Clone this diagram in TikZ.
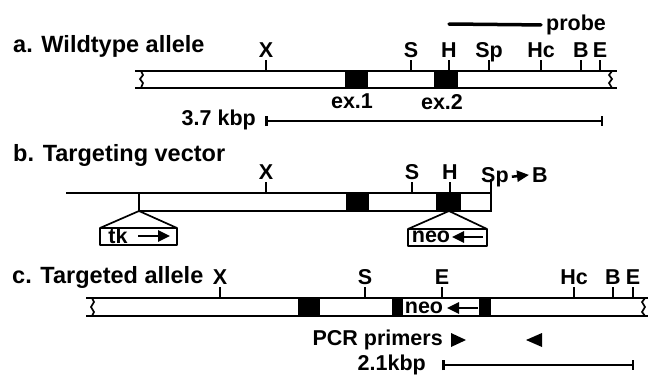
\documentclass[tikz,border=0pt]{standalone}
\usepackage{fontspec}
\setmainfont{Liberation Sans}
\usetikzlibrary{arrows.meta}
\tikzset{
    title/.style={font=\fontsize{23.5}{28}\bfseries, anchor=west, inner sep=0pt},
    label/.style={font=\fontsize{21.5}{26}\bfseries, inner sep=0pt},
    site/.style={font=\fontsize{21.5}{26}\bfseries, above=2pt, inner sep=0pt, text depth=0pt},
    tick/.style={line width=2pt},
    strand/.style={line width=1.7pt},
    exon/.style={fill=black, draw=none},
    geneArrow/.style={line width=2.5pt, -{Triangle[length=12pt,width=11pt]}},
    scalebar/.style={line width=2.5pt, {Bar[width=10pt]}-{Bar[width=10pt]}}
}
\begin{document}
\begin{tikzpicture}[x=1pt, y=-1pt]
    \useasboundingbox (0,0) rectangle (649,375);

    % Wildtype allele
    \node[title] (atitle) at (13,46) {a. Wildtype allele};
    \draw[strand] (135,71) -- (617,71);
    \draw[strand] (135,88) -- (617,88);
    \draw[strand] (141,71) -- (143,75) -- (140,79) -- (143,83) -- (141,88);
    \draw[strand] (612,71) -- (609,75) -- (612,79) -- (609,83) -- (612,88);
    \fill[exon] (345,71) rectangle (368,88);
    \fill[exon] (434,71) rectangle (458,88);
    \draw[tick] (266,71) -- ++(0,-11) node[site] (aX) {X};
    \draw[tick] (411,71) -- ++(0,-11) node[site] (aS) {S};
    \draw[tick] (449,71) -- ++(0,-11) node[site] (aH) {H};
    \draw[tick] (489,71) -- ++(0,-11) node[site] (aSp) {Sp};
    \draw[tick] (541,71) -- ++(0,-11) node[site] (aHc) {Hc};
    \draw[tick] (581,71) -- ++(0,-11) node[site] (aB) {B};
    \draw[tick] (600,71) -- ++(0,-11) node[site] (aE) {E};
    \node[label] (ex1) at (352,101) {ex.1};
    \node[label] (ex2) at (442,102) {ex.2};

    % Probe and fragment
    \node[label, anchor=west] (probe) at (546,25) {probe};
    \draw[line width=3.5pt, line cap=round, shorten >=5pt] (449,24) -- (probe.west);
    \node[label, anchor=east] (akbp) at (256,120) {3.7 kbp};
    \draw[scalebar] (265,121) -- (603,121);

    % Targeting vector
    \node[title] (btitle) at (13,155) {b. Targeting vector};
    \draw[strand] (66,193) -- (491,193);
    \draw[strand] (139,211) -- (491,211);
    \draw[strand] (139,193) -- (139,211);
    \fill[exon] (346,193) rectangle (369,211);
    \fill[exon] (436,193) rectangle (461,211);
    \draw[tick] (266,193) -- ++(0,-11) node[site] (bX) {X};
    \draw[tick] (412,193) -- ++(0,-11) node[site] (bS) {S};
    \draw[tick] (450,193) -- ++(0,-11) node[site] (bH) {H};
    \draw[tick] (491,212) -- (491,179);
    \node[label, anchor=base west] (bSp) at (481,182) {Sp};
    \node[label, anchor=base west] (bB) at (532,182) {B};
    \draw[geneArrow, shorten >=3pt] (bSp.east) ++(3,0) -- (bB.west);

    % Inserted cassettes
    \draw[strand, line join=round] (100,245) -- (100,228) -- (139,211) -- (177,228) -- (177,245) -- cycle;
    \draw[strand] (100,228) -- (177,228);
    \node[label] (tk) at (118,236) {tk};
    \draw[geneArrow] (138,236) -- (170,236);
    \draw[strand, line join=round] (408,246) -- (408,229) -- (449,211) -- (487,229) -- (487,246) -- cycle;
    \draw[strand] (408,229) -- (487,229);
    \node[label] (bneo) at (431,237) {neo};
    \draw[geneArrow] (483,237) -- (452,237);

    % Targeted allele
    \node[title] (ctitle) at (12,277) {c. Targeted allele};
    \draw[strand] (86,298) -- (648,298);
    \draw[strand] (86,316) -- (648,316);
    \draw[strand] (92,298) -- (94,302) -- (91,307) -- (94,312) -- (92,316);
    \draw[strand] (645,298) -- (642,302) -- (645,307) -- (642,312) -- (645,316);
    \fill[exon] (298,298) rectangle (320,316);
    \fill[exon] (392,298) rectangle (403,316);
    \fill[exon] (479,298) rectangle (491,316);
    \draw[tick] (220,298) -- ++(0,-11) node[site] (cX) {X};
    \draw[tick] (365,298) -- ++(0,-11) node[site] (cS) {S};
    \draw[tick] (442,298) -- ++(0,-11) node[site] (cE) {E};
    \draw[tick] (574,298) -- ++(0,-11) node[site] (cHc) {Hc};
    \draw[tick] (613,298) -- ++(0,-11) node[site] (cB) {B};
    \draw[tick] (633,298) -- ++(0,-11) node[site] (cEE) {E};
    \node[label] (cneo) at (424,308) {neo};
    \draw[geneArrow] (478,308) -- (447,308);

    % Primers and fragment
    \node[label, anchor=east] (primers) at (443,340) {PCR primers};
    \fill (451,333) -- (466,340) -- (451,347) -- cycle;
    \fill (542,333) -- (526,340) -- (542,347) -- cycle;
    \node[label, anchor=base east] (ckbp) at (426,370) {2.1kbp};
    \draw[scalebar] (442,365) -- (634,365);
\end{tikzpicture}
\end{document}
